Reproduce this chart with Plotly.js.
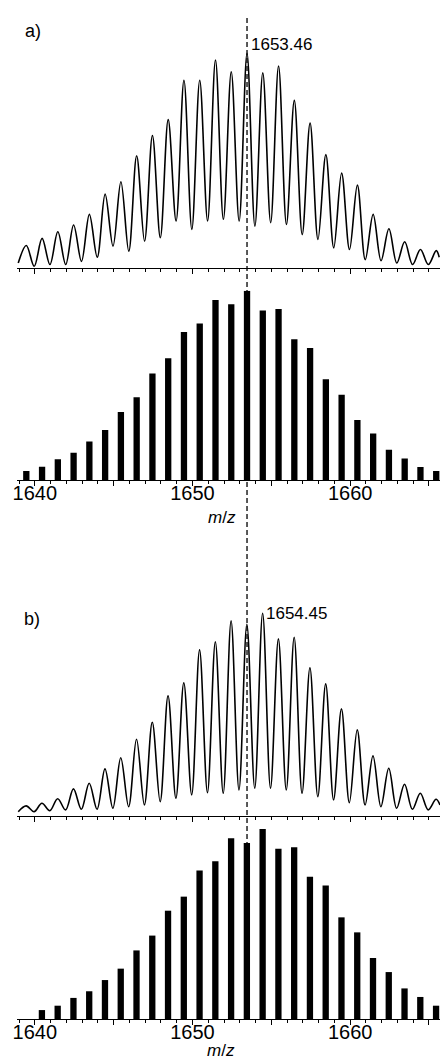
<!DOCTYPE html>
<html>
<head>
<meta charset="utf-8">
<script src="https://cdn.plot.ly/plotly-3.0.1.min.js"></script>
<style>html,body{margin:0;padding:0;background:#fff}#chart{width:440px;height:1063px}</style>
</head>
<body>
<div id="chart"></div>
<script>
// ---- Panel a) measured spectrum: peak maxima and valley minima (m/z, relative intensity)
const spectrumA_mz = [1638.95,1639.46,1639.96,1640.46,1640.96,1641.46,1641.96,1642.46,1642.96,1643.46,1643.96,1644.46,1644.96,1645.46,1645.96,1646.46,1646.96,1647.46,1647.96,1648.46,1648.96,1649.46,1649.96,1650.46,1650.96,1651.46,1651.96,1652.46,1652.96,1653.46,1653.96,1654.46,1654.96,1655.46,1655.96,1656.46,1656.96,1657.46,1657.96,1658.46,1658.96,1659.46,1659.96,1660.46,1660.96,1661.46,1661.96,1662.46,1662.96,1663.46,1663.96,1664.46,1664.96,1665.46,1665.65];
const spectrumA_int = [2.3,10.5,0.8,13.8,1.6,16.9,1.6,20.0,3.1,25.0,5.0,34.4,10.2,40.2,7.8,52.3,12.5,61.7,14.1,69.1,21.9,87.5,18.0,87.5,21.9,96.9,22.7,91.4,21.9,100,19.5,90.9,21.1,94.1,20.3,78.1,15.6,67.5,13.3,52.8,9.4,44.2,8.6,38.6,3.9,25.0,3.4,18.3,2.3,12.2,1.6,8.6,1.6,8.1,5.0];
// ---- Panel a) calculated isotope pattern (bars)
const barsA_mz = [1639.46,1640.46,1641.46,1642.46,1643.46,1644.46,1645.46,1646.46,1647.46,1648.46,1649.46,1650.46,1651.46,1652.46,1653.46,1654.46,1655.46,1656.46,1657.46,1658.46,1659.46,1660.46,1661.46,1662.46,1663.46,1664.46,1665.46];
const barsA_int = [4.8,7.0,10.9,14.4,20.4,26.4,35.9,43.7,56.3,64.3,78.2,82.7,95.1,92.8,100,89.6,90.3,74.3,69.7,53.2,45.1,31.7,24.5,16.0,11.4,6.9,4.8];

// ---- Panel b) measured spectrum
const spectrumB_mz = [1638.95,1639.45,1639.95,1640.45,1640.95,1641.45,1641.95,1642.45,1642.95,1643.45,1643.95,1644.45,1644.95,1645.45,1645.95,1646.45,1646.95,1647.45,1647.95,1648.45,1648.95,1649.45,1649.95,1650.45,1650.95,1651.45,1651.95,1652.45,1652.95,1653.45,1653.95,1654.45,1654.95,1655.45,1655.95,1656.45,1656.95,1657.45,1657.95,1658.45,1658.95,1659.45,1659.95,1660.45,1660.95,1661.45,1661.95,1662.45,1662.95,1663.45,1663.95,1664.45,1664.95,1665.45,1665.70];
const spectrumB_int = [0.8,3.7,0.8,5.0,1.3,7.3,1.7,12.2,2.0,15.0,2.0,22.2,2.5,27.8,3.3,37.0,4.2,45.5,5.8,58.8,7.5,65.3,9.2,81.7,10.3,85.8,10.0,96.2,11.7,94.5,12.5,100,12.5,87.2,11.7,88.0,10.0,72.8,8.3,64.7,6.7,52.2,5.3,41.7,4.2,28.7,3.3,22.5,2.5,14.5,2.0,10.0,1.7,7.0,4.2];
// ---- Panel b) calculated isotope pattern (bars)
const barsB_mz = [1640.45,1641.45,1642.45,1643.45,1644.45,1645.45,1646.45,1647.45,1648.45,1649.45,1650.45,1651.45,1652.45,1653.45,1654.45,1655.45,1656.45,1657.45,1658.45,1659.45,1660.45,1661.45,1662.45,1663.45,1664.45,1665.45];
const barsB_int = [4.7,7.0,11.1,14.6,20.5,26.5,36.1,43.9,57.0,64.4,78.2,83.0,95.1,92.6,100,89.6,90.4,74.9,70.2,53.5,45.6,32.1,24.7,16.1,11.6,7.0];

const tickVals = [1640,1645,1650,1655,1660,1665];
const tickText = ['1640','','1650','','1660',''];
const peakLabelA = '1653.46';
const peakLabelB = '1654.45';
const refLine = 1653.46;

const FONT = 'Liberation Sans, Arial, Helvetica, sans-serif';
const XR = [1638.87, 1665.70];

function xax(anchor, labels) {
  return {
    anchor: anchor, domain: [0, 1], range: XR, fixedrange: true,
    showgrid: false, zeroline: false,
    showline: true, linecolor: '#000', linewidth: 1.2,
    ticks: 'outside', ticklen: 5, tickwidth: 1, tickcolor: '#000',
    tickmode: 'array', tickvals: tickVals, ticktext: tickText,
    showticklabels: labels, ticklabelstandoff: -10,
    tickfont: {family: FONT, size: 20, color: '#000'},
    minor: {ticks: 'outside', tickmode: 'linear', tick0: 1640, dtick: 1, ticklen: 3, tickwidth: 1, tickcolor: '#000', showgrid: false}
  };
}
function yax(domain, range) {
  return {domain: domain, range: range, visible: false, showgrid: false, zeroline: false, fixedrange: true};
}

const traces = [
  {type: 'scatter', mode: 'lines', x: spectrumA_mz, y: spectrumA_int, xaxis: 'x', yaxis: 'y',
   line: {color: '#000', width: 1.6, shape: 'spline', smoothing: 1}, hoverinfo: 'skip'},
  {type: 'bar', x: barsA_mz, y: barsA_int, xaxis: 'x2', yaxis: 'y2', width: 0.4,
   marker: {color: '#000', line: {width: 0}}, hoverinfo: 'skip'},
  {type: 'scatter', mode: 'lines', x: spectrumB_mz, y: spectrumB_int, xaxis: 'x3', yaxis: 'y3',
   line: {color: '#000', width: 1.6, shape: 'spline', smoothing: 1}, hoverinfo: 'skip'},
  {type: 'bar', x: barsB_mz, y: barsB_int, xaxis: 'x4', yaxis: 'y4', width: 0.4,
   marker: {color: '#000', line: {width: 0}}, hoverinfo: 'skip'}
];

const layout = {
  width: 440, height: 1063,
  margin: {l: 17, r: 0, t: 0, b: 0},
  paper_bgcolor: '#fff', plot_bgcolor: 'rgba(0,0,0,0)',
  showlegend: false,
  font: {family: FONT, color: '#000'},
  xaxis: xax('y', false),
  xaxis2: xax('y2', true),
  xaxis3: xax('y3', false),
  xaxis4: xax('y4', true),
  yaxis: yax([0.74788, 0.95992], [0, 105]),
  yaxis2: yax([0.54845, 0.72653], [0, 100]),
  yaxis3: yax([0.23246, 0.43246], [-1.3, 105]),
  yaxis4: yax([0.04139, 0.22013], [0, 100]),
  shapes: [
    {type: 'line', xref: 'x', yref: 'paper', x0: refLine, x1: refLine, y0: 0.0452, y1: 0.9859,
     line: {color: '#000', width: 1.3, dash: '5px,3px'}, layer: 'above'}
  ],
  annotations: [
    {xref: 'paper', yref: 'paper', x: 0.0142, y: 0.9708, xanchor: 'left', yanchor: 'middle',
     text: 'a)', showarrow: false, font: {family: FONT, size: 18, color: '#000'}},
    {xref: 'paper', yref: 'paper', x: 0.0118, y: 0.4177, xanchor: 'left', yanchor: 'middle',
     text: 'b)', showarrow: false, font: {family: FONT, size: 18, color: '#000'}},
    {xref: 'x', yref: 'y', x: 1653.46, y: 103.9, xanchor: 'left', yanchor: 'middle', xshift: 2,
     text: peakLabelA, showarrow: false, font: {family: FONT, size: 17, color: '#000'}},
    {xref: 'x3', yref: 'y3', x: 1654.45, y: 100, xanchor: 'left', yanchor: 'middle', xshift: 1.5,
     text: peakLabelB, showarrow: false, font: {family: FONT, size: 17, color: '#000'}},
    {xref: 'paper', yref: 'paper', x: 0.4835, y: 0.5127, xanchor: 'center', yanchor: 'middle',
     text: '<i>m</i>/<i>z</i>', showarrow: false, font: {family: FONT, size: 17, color: '#000'}},
    {xref: 'paper', yref: 'paper', x: 0.4811, y: 0.0005, xanchor: 'center', yanchor: 'bottom',
     text: '<i>m</i>/<i>z</i>', showarrow: false, font: {family: FONT, size: 17, color: '#000'}}
  ]
};

Plotly.newPlot('chart', traces, layout, {staticPlot: true, displayModeBar: false});
</script>
</body>
</html>
